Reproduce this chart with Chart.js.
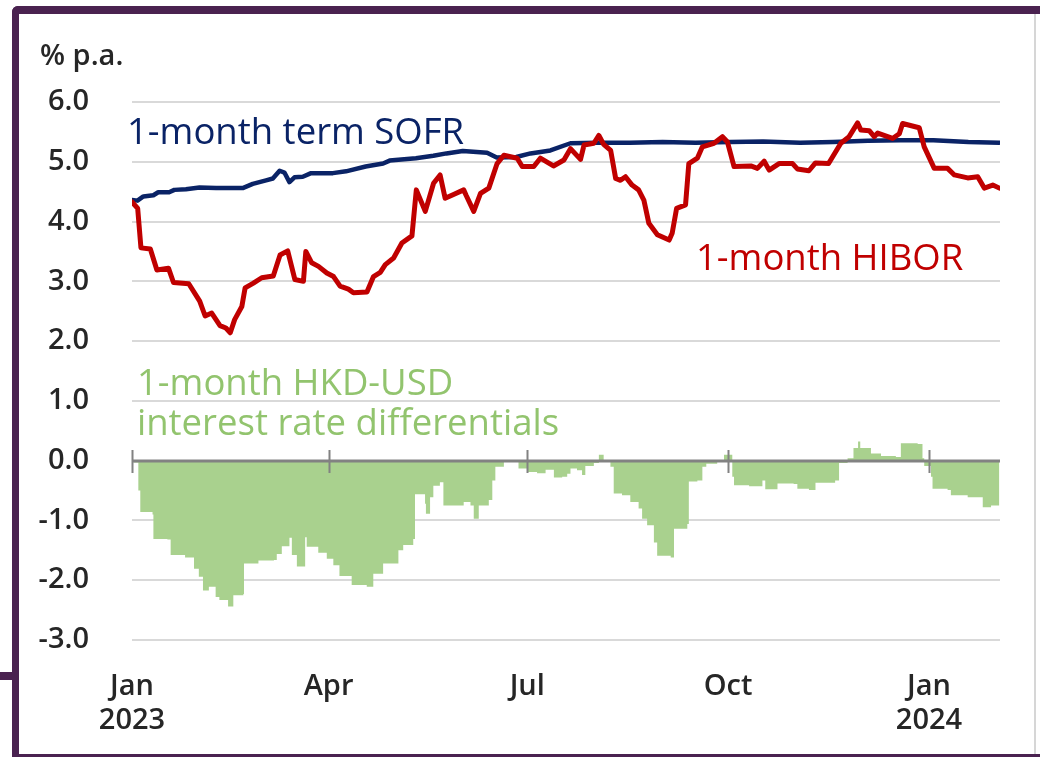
<!DOCTYPE html>
<html>
<head>
<meta charset="utf-8">
<script src="https://cdn.jsdelivr.net/npm/chart.js@4/dist/chart.umd.min.js"></script>
<style>
  body { margin: 0; background: #fff; }
  #wrap { position: relative; width: 1040px; height: 757px; overflow: hidden; }
  #wrap canvas { position: absolute; left: 0; top: 0; }
  .bar { position: absolute; background: #4a2250; }
</style>
</head>
<body>
<div id="wrap">
  <canvas id="chart" width="1040" height="757"></canvas>
  <div class="bar" style="left:12px; top:6px; width:1028px; height:8px; border-top-left-radius:6px;"></div>
  <div class="bar" style="left:12px; top:6px; width:7px; height:751px; border-top-left-radius:6px;"></div>
  <div class="bar" style="left:0; top:672px; width:14px; height:8px;"></div>
  <div class="bar" style="left:12px; top:754px; width:1028px; height:3px;"></div>
  <div style="position:absolute; left:1034px; top:14px; width:2px; height:740px; background:#d6d6d6;"></div>
</div>
<script>
// x values are days since 1 Jan 2023
const tickDays = [0, 90, 181, 273, 365];
const tickLabels = [["Jan", "2023"], "Apr", "Jul", "Oct", ["Jan", "2024"]];

const sofrDays = [0, 2.5, 5.2, 9.8, 12, 17, 19.4, 24.7, 30.9, 38.5, 50.7, 55.3, 61.4, 64.5, 67.6, 69.8, 72.1, 74.4, 78.2, 82, 92, 98, 107, 115, 118, 130, 138, 144, 151.5, 162.6, 167, 176, 182.5, 191.6, 200.8, 213, 228, 243, 258, 274, 289, 306, 321, 337, 352, 367, 383, 397.2];
const sofrRates = [4.36, 4.35, 4.42, 4.44, 4.49, 4.49, 4.53, 4.54, 4.57, 4.56, 4.56, 4.63, 4.69, 4.72, 4.85, 4.82, 4.66, 4.74, 4.75, 4.81, 4.81, 4.84, 4.92, 4.97, 5.02, 5.06, 5.10, 5.14, 5.18, 5.15, 5.07, 5.08, 5.14, 5.19, 5.31, 5.32, 5.32, 5.33, 5.32, 5.33, 5.34, 5.32, 5.33, 5.35, 5.36, 5.36, 5.33, 5.32];

const hiborDays = [0, 2.6, 4.1, 8.4, 11.4, 16.7, 19, 26, 31, 33.5, 36.5, 40.3, 43, 45, 47, 50.3, 51.8, 55.6, 59.4, 64.7, 67.8, 71.3, 74.6, 78.5, 79.6, 82.3, 85.4, 89.2, 92.3, 95.3, 99.1, 101.4, 107.6, 110.6, 113.7, 116, 119.8, 123.6, 128.2, 130.2, 134.3, 138.1, 141.1, 143.4, 147, 151.9, 153, 156.5, 159.6, 163.4, 167.2, 170.3, 176.4, 178.7, 184, 187, 193, 197.8, 200.8, 205.4, 207, 211.5, 213.8, 216, 219.2, 221.5, 223.7, 226, 229, 232, 234.4, 236.7, 240.6, 246, 247.4, 249.4, 253.5, 255, 258.9, 261.2, 266.5, 270.4, 272.7, 275.7, 283.4, 286.4, 289.5, 291.8, 296.3, 302.5, 304.7, 310, 313, 319, 324.6, 328.4, 332.3, 333.8, 337.6, 339.9, 341.5, 348.3, 351.4, 352.9, 360.5, 362.8, 367.4, 373.5, 376.6, 382.7, 387.3, 390.3, 394.2, 397.2];
const hiborRates = [4.33, 4.22, 3.56, 3.54, 3.19, 3.22, 2.98, 2.96, 2.67, 2.42, 2.47, 2.26, 2.22, 2.14, 2.36, 2.58, 2.89, 2.97, 3.06, 3.09, 3.44, 3.51, 3.03, 3.00, 3.50, 3.31, 3.25, 3.14, 3.08, 2.92, 2.87, 2.81, 2.82, 3.08, 3.15, 3.28, 3.39, 3.64, 3.76, 4.53, 4.17, 4.64, 4.78, 4.39, 4.45, 4.53, 4.44, 4.17, 4.47, 4.56, 4.97, 5.11, 5.06, 4.92, 4.92, 5.06, 4.93, 5.03, 5.22, 5.04, 5.28, 5.31, 5.44, 5.29, 5.19, 4.72, 4.69, 4.75, 4.61, 4.53, 4.36, 3.97, 3.78, 3.69, 3.81, 4.22, 4.28, 4.97, 5.06, 5.25, 5.31, 5.42, 5.33, 4.92, 4.93, 4.89, 5.01, 4.86, 4.97, 4.97, 4.88, 4.85, 4.98, 4.97, 5.31, 5.42, 5.65, 5.53, 5.52, 5.42, 5.48, 5.39, 5.47, 5.64, 5.57, 5.25, 4.89, 4.89, 4.78, 4.73, 4.75, 4.56, 4.61, 4.56];

const diffDays = [0, 0.8, 2.9, 3.8, 9.4, 9.8, 16.2, 17.7, 24.3, 28.4, 30.6, 32.5, 35.2, 38.3, 40, 44, 46.4, 51, 51.3, 57.9, 65, 66.3, 68.6, 72.1, 73.2, 75.5, 78.8, 79.3, 80, 85.3, 89.2, 92.2, 95, 100.6, 107.5, 110.5, 115, 120.4, 122, 124.2, 128.8, 129.6, 134.2, 134.6, 136.5, 138, 141, 142.6, 151.9, 155, 156.5, 158.8, 163.4, 165, 166.4, 170.3, 177, 181, 185.5, 189.4, 193.2, 197, 199.3, 200.8, 203.8, 206.1, 207.6, 211.5, 213.8, 216, 219.1, 220.6, 224.4, 228.2, 232, 233.6, 235.9, 239, 240.5, 246.7, 248.2, 254.3, 255, 258.9, 261.2, 263, 268, 271.1, 274.9, 275.7, 282.6, 288.7, 290, 295.6, 303, 304.7, 310, 313, 322, 323.8, 327.7, 330.4, 332.5, 333.5, 338.4, 343, 349.8, 352.1, 359.8, 362, 362.8, 365.9, 366.6, 373.5, 375, 382.7, 387.3, 389.6, 393.4, 397.2];
const diffValues = [0, -0.03, -0.5, -0.86, -0.9, -1.31, -1.32, -1.58, -1.62, -1.81, -1.94, -2.17, -2.11, -2.28, -2.33, -2.44, -2.25, -2.23, -1.72, -1.67, -1.66, -1.56, -1.43, -1.29, -1.58, -1.77, -1.77, -1.28, -1.44, -1.54, -1.64, -1.75, -1.93, -2.08, -2.11, -1.89, -1.72, -1.72, -1.5, -1.41, -1.31, -0.56, -0.72, -0.89, -0.61, -0.42, -0.36, -0.75, -0.69, -0.75, -0.97, -0.75, -0.66, -0.33, -0.1, -0.02, -0.13, -0.19, -0.21, -0.15, -0.28, -0.27, -0.22, -0.13, -0.16, -0.24, -0.09, -0.04, 0.1, -0.02, -0.1, -0.55, -0.58, -0.69, -0.8, -0.97, -1.08, -1.37, -1.59, -1.62, -1.14, -1.06, -0.35, -0.33, -0.1, -0.05, 0.01, 0.1, -0.27, -0.41, -0.43, -0.33, -0.48, -0.38, -0.39, -0.47, -0.49, -0.37, -0.33, -0.04, 0.04, 0.21, 0.32, 0.21, 0.12, 0.08, 0.06, 0.29, 0.28, 0.04, -0.09, -0.27, -0.47, -0.49, -0.58, -0.61, -0.61, -0.78, -0.75, -0.76];

const NAVY = "#0a2366";
const RED = "#c00000";
const GREEN = "#a9d18e";
const GREEN_TEXT = "#92c46e";
const TEXT = "#262626";
const FONT = "'Open Sans', 'Noto Sans', sans-serif";

const pts = (xs, ys) => xs.map((x, i) => ({ x, y: ys[i] }));

// zero line with the month tick marks sits inside the plot, labels stay at the bottom
const zeroAxis = {
  id: "zeroAxis",
  afterDatasetsDraw(chart) {
    const { ctx, chartArea, scales: { x, y } } = chart;
    const y0 = Math.round(y.getPixelForValue(0));
    ctx.save();
    ctx.strokeStyle = "#828282";
    ctx.lineWidth = 3;
    ctx.beginPath();
    ctx.moveTo(chartArea.left, y0);
    ctx.lineTo(chartArea.right, y0);
    ctx.stroke();
    ctx.lineWidth = 2;
    ctx.beginPath();
    tickDays.forEach(d => {
      const px = Math.round(x.getPixelForValue(d)) + 0.5;
      ctx.moveTo(px, y0 - 11);
      ctx.lineTo(px, y0 + 12);
    });
    ctx.stroke();
    ctx.restore();
  }
};

const notes = {
  id: "notes",
  afterDraw(chart) {
    const ctx = chart.ctx;
    ctx.save();
    ctx.textAlign = "left";
    ctx.textBaseline = "alphabetic";
    ctx.fillStyle = TEXT;
    ctx.font = `600 29px ${FONT}`;
    ctx.fillText("% p.a.", 40, 65);
    ctx.font = `36.5px ${FONT}`;
    ctx.fillStyle = NAVY;
    ctx.fillText("1-month term SOFR", 127, 144);
    ctx.fillStyle = RED;
    ctx.fillText("1-month HIBOR", 696, 270);
    ctx.fillStyle = GREEN_TEXT;
    ctx.fillText("1-month HKD-USD", 137, 395);
    ctx.fillText("interest rate differentials", 137, 435);
    ctx.restore();
  }
};

new Chart(document.getElementById("chart"), {
  type: "line",
  data: {
    datasets: [
      { label: "1-month HIBOR", data: pts(hiborDays, hiborRates), borderColor: RED, borderWidth: 5, pointRadius: 0, order: 0, borderJoinStyle: "round", borderCapStyle: "round" },
      { label: "1-month term SOFR", data: pts(sofrDays, sofrRates), borderColor: NAVY, borderWidth: 4.5, pointRadius: 0, order: 1, borderJoinStyle: "round", borderCapStyle: "round" },
      { label: "1-month HKD-USD interest rate differentials", data: pts(diffDays, diffValues), borderColor: "rgba(0,0,0,0)", borderWidth: 0, backgroundColor: GREEN, fill: "origin", stepped: true, pointRadius: 0, order: 2 },
    ],
  },
  options: {
    responsive: false,
    devicePixelRatio: 1,
    animation: false,
    layout: { padding: { left: 0, right: 40, top: 102, bottom: 0 } },
    plugins: { legend: { display: false }, tooltip: { enabled: false } },
    scales: {
      x: {
        type: "linear",
        min: 0,
        max: 397.5,
        afterBuildTicks: s => { s.ticks = tickDays.map(v => ({ value: v })); },
        afterFit: s => { s.height = 117; },
        grid: { display: false, drawTicks: false },
        border: { display: false },
        ticks: {
          autoSkip: false,
          maxRotation: 0,
          padding: 29,
          color: TEXT,
          font: { family: FONT, size: 29, weight: "600", lineHeight: 1.2 },
          callback: (v, i) => tickLabels[i],
        },
      },
      y: {
        min: -3,
        max: 6,
        afterFit: s => { s.width = 132; },
        grid: { color: "#d9d9d9", lineWidth: 2, drawTicks: false },
        border: { display: false },
        ticks: {
          stepSize: 1,
          padding: 43,
          color: TEXT,
          font: { family: FONT, size: 29, weight: "600" },
          callback: v => v.toFixed(1),
        },
      },
    },
  },
  plugins: [zeroAxis, notes],
});
</script>
</body>
</html>
